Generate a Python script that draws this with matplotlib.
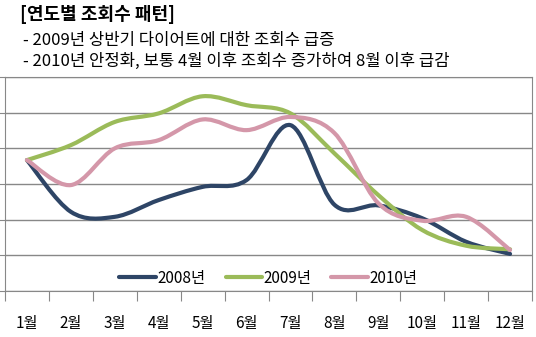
import numpy as np
import matplotlib.pyplot as plt
from matplotlib.path import Path
from matplotlib.patches import PathPatch
from matplotlib.lines import Line2D

plt.rcParams['font.family'] = ['Noto Sans CJK KR', 'DejaVu Sans']

months = ['1월', '2월', '3월', '4월', '5월', '6월', '7월', '8월', '9월', '10월', '11월', '12월']
years = ['2008년', '2009년', '2010년']
views_2008 = [3.67, 2.22, 2.08, 2.55, 2.92, 3.11, 4.65, 2.42, 2.40, 2.04, 1.38, 1.04]
views_2009 = [3.67, 4.09, 4.74, 4.98, 5.46, 5.21, 4.98, 3.86, 2.69, 1.71, 1.27, 1.17]
views_2010 = [3.67, 2.97, 4.00, 4.23, 4.81, 4.51, 4.88, 4.43, 2.46, 1.97, 2.08, 1.15]
colors = ['#2E4566', '#9BBB59', '#D497A9']


def smooth_path(xs, ys):
    # excel-style smoothed line: cubic bezier through each point
    pts = np.column_stack([xs, ys]).astype(float)
    n = len(pts)
    verts = [pts[0]]
    codes = [Path.MOVETO]
    for i in range(n - 1):
        p0 = pts[max(i - 1, 0)]
        p1 = pts[i]
        p2 = pts[i + 1]
        p3 = pts[min(i + 2, n - 1)]
        verts += [p1 + (p2 - p0) / 6, p2 - (p3 - p1) / 6, p2]
        codes += [Path.CURVE4] * 3
    return Path(verts, codes)


fig = plt.figure(figsize=(5.36, 3.37), dpi=100)
ax = fig.add_axes([5 / 536, 46 / 337, 527 / 536, 214 / 337])

x = np.arange(len(months))
for series, col in zip([views_2008, views_2009, views_2010], colors):
    ax.add_patch(PathPatch(smooth_path(x, series), fill=False, edgecolor=col,
                           lw=3.0, capstyle='round', joinstyle='round', zorder=3))

ax.set_xlim(-0.5, 11.5)
ax.set_ylim(0, 6)
ax.set_yticks([0, 1, 2, 3, 4, 5, 6])
ax.set_yticklabels([])
ax.yaxis.grid(True, color='#888888', lw=1)
ax.tick_params(axis='y', length=4, color='#888888')

ax.set_xticks(np.arange(-0.5, 12, 1))
ax.set_xticklabels([])
ax.set_xticks(x, minor=True)
ax.set_xticklabels(months, minor=True, fontsize=11)
ax.tick_params(axis='x', which='major', length=7, color='#888888')
ax.tick_params(axis='x', which='minor', length=0, pad=17)
for s in ax.spines.values():
    s.set_color('#888888')

handles = [Line2D([], [], color=c, lw=3.0, solid_capstyle='round') for c in colors]
ax.legend(handles, years, loc='center', bbox_to_anchor=(0.5, 0.06), ncol=3,
          frameon=False, fontsize=11, handlelength=2.4, handletextpad=0.1,
          columnspacing=1.3, borderaxespad=0)

fig.text(20 / 536, 1 - 15 / 337, '[연도별 조회수 패턴]', fontsize=13,
         fontweight='bold', va='center', ha='left')
fig.text(23 / 536, 1 - 40 / 337, '- 2009년 상반기 다이어트에 대한 조회수 급증',
         fontsize=12, va='center', ha='left')
fig.text(23 / 536, 1 - 61 / 337, '- 2010년 안정화, 보통 4월 이후 조회수 증가하여 8월 이후 급감',
         fontsize=12, va='center', ha='left')

fig.savefig('out.png', dpi=100)
